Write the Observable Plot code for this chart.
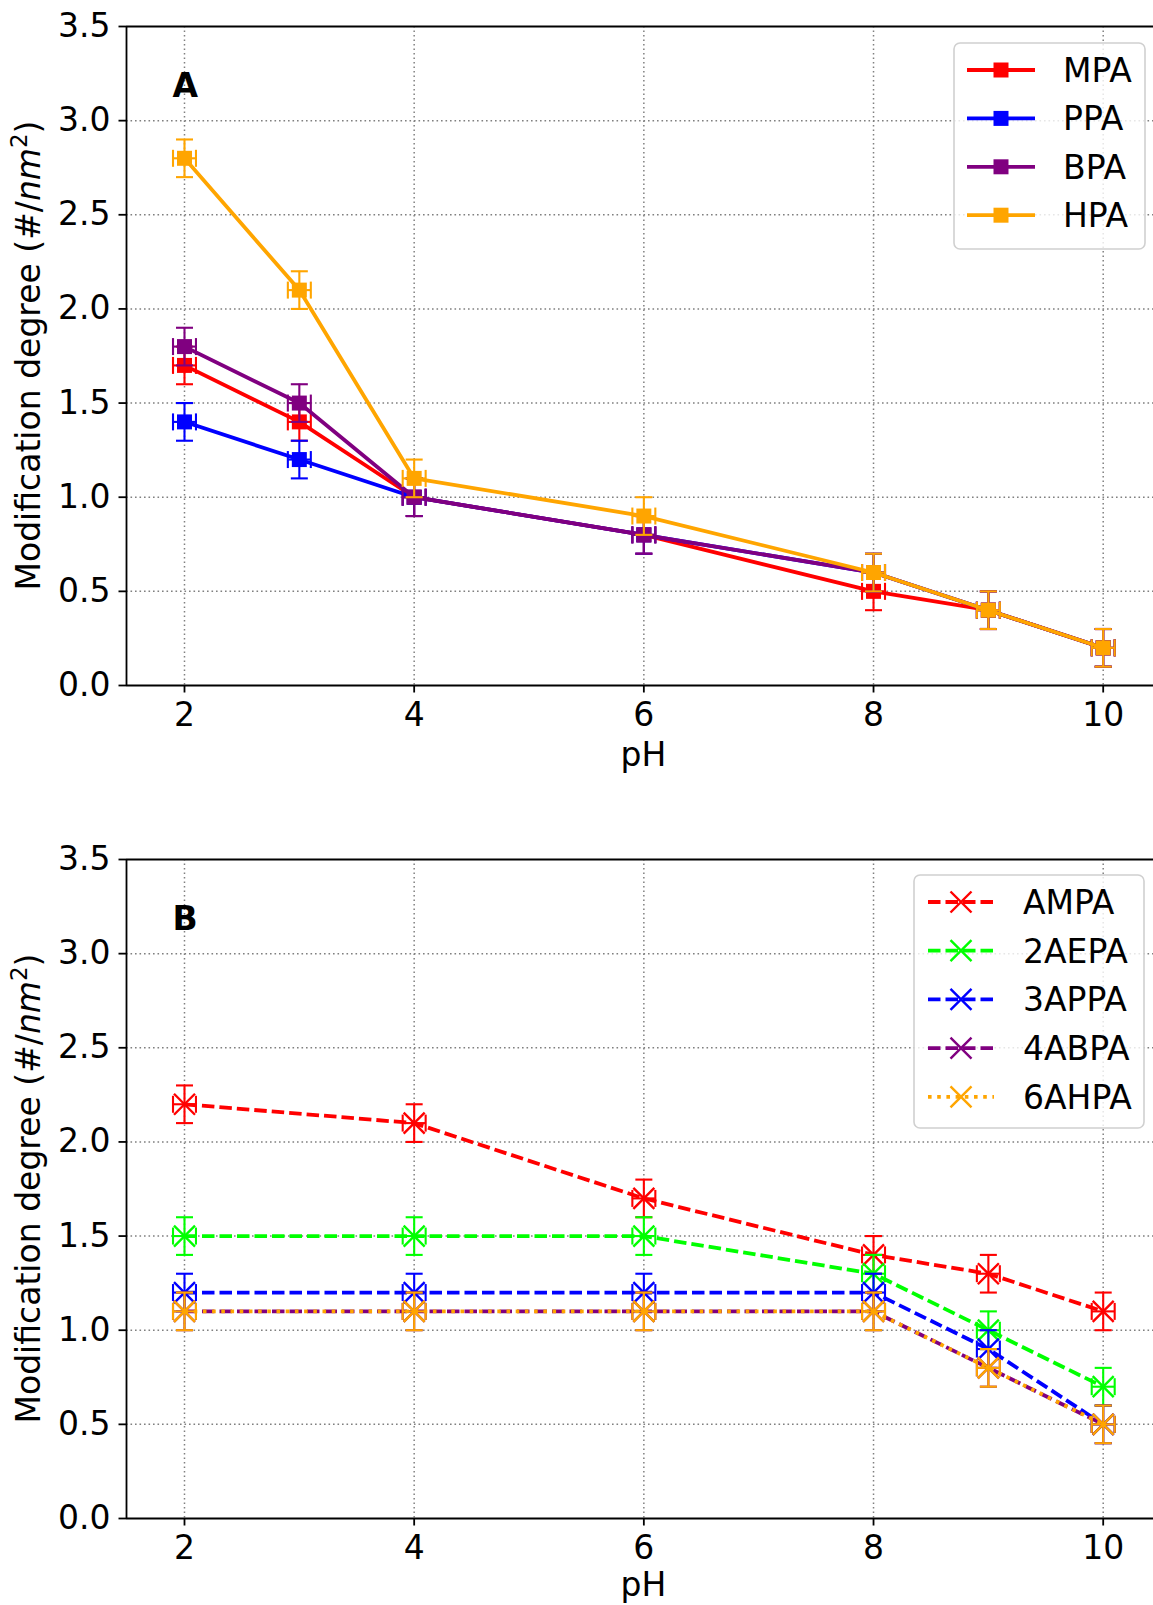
<!DOCTYPE html>
<html>
<head>
<meta charset="utf-8">
<script src="https://cdn.jsdelivr.net/npm/d3@7"></script>
<script src="https://cdn.jsdelivr.net/npm/@observablehq/plot@0.6"></script>
<style>
  body { margin: 0; background: #fff; }
  svg { display: block; }
</style>
</head>
<body>
<div id="chart"></div>
<script>
// ---- Panel A: phosphonic acids (pH vs modification degree) ----
const phA = [2, 3, 4, 6, 8, 9, 10];
const mpa = [1.7, 1.4, 1.0, 0.8, 0.5, 0.4, 0.2];
const ppa = [1.4, 1.2, 1.0, 0.8, 0.6, 0.4, 0.2];
const bpa = [1.8, 1.5, 1.0, 0.8, 0.6, 0.4, 0.2];
const hpa = [2.8, 2.1, 1.1, 0.9, 0.6, 0.4, 0.2];

// ---- Panel B: amino-phosphonic acids ----
const phB = [2, 4, 6, 8, 9, 10];
const ampa  = [2.2, 2.1, 1.7, 1.4, 1.3, 1.1];
const aepa2 = [1.5, 1.5, 1.5, 1.3, 1.0, 0.7];
const appa3 = [1.2, 1.2, 1.2, 1.2, 0.9, 0.5];
const abpa4 = [1.1, 1.1, 1.1, 1.1, 0.8, 0.5];
const ahpa6 = [1.1, 1.1, 1.1, 1.1, 0.8, 0.5];

// Uncertainties (same for every point)
const yErr = 0.1;
const xErr = 0.1;

// Axis ticks
const phTicks = [2, 4, 6, 8, 10];
const degreeTicks = [0, 0.5, 1.0, 1.5, 2.0, 2.5, 3.0, 3.5];
const gridDegree = [0.5, 1.0, 1.5, 2.0, 2.5, 3.0];

// Axis extent: the pH axis runs 1.495–10.505, the right part falls off the page
const phAxis = [1.495, 10.505];
const phVisible = [1.495, 10.438];
const degreeDomain = [0, 3.5];

const DASHED = "12.5,5";
const DOTTED = "3.6,5.6";

const seriesA = [
  {name: "MPA", values: mpa, color: "#ff0000", dash: null},
  {name: "PPA", values: ppa, color: "#0000ff", dash: null},
  {name: "BPA", values: bpa, color: "#800080", dash: null},
  {name: "HPA", values: hpa, color: "#ffa500", dash: null}
];
const seriesB = [
  {name: "AMPA",  values: ampa,  color: "#ff0000", dash: DASHED},
  {name: "2AEPA", values: aepa2, color: "#00ff00", dash: DASHED},
  {name: "3APPA", values: appa3, color: "#0000ff", dash: DASHED},
  {name: "4ABPA", values: abpa4, color: "#800080", dash: DASHED},
  {name: "6AHPA", values: ahpa6, color: "#ffa500", dash: DOTTED}
];

// Custom symbols; r is recovered from the area Plot passes in
const rad = size => Math.sqrt(size / Math.PI);
const capH = {draw(ctx, size) { const r = rad(size); ctx.moveTo(-r, 0); ctx.lineTo(r, 0); }};
const capV = {draw(ctx, size) { const r = rad(size); ctx.moveTo(0, -r); ctx.lineTo(0, r); }};
const squareSym = {draw(ctx, size) { const r = rad(size); ctx.rect(-r, -r, 2 * r, 2 * r); }};
const crossSym = {draw(ctx, size) {
  const r = rad(size);
  ctx.moveTo(-r, -r); ctx.lineTo(r, r);
  ctx.moveTo(r, -r); ctx.lineTo(-r, r);
}};

const FONT = "DejaVu Sans";
const LINE_W = 3.8;
const BAR_W = 2.1;
const gridStyle = {stroke: "#808080", strokeOpacity: 1, strokeWidth: 1.5, strokeDasharray: "1.6,2.9"};

function drawPanel(cfg) {
  const {xs, series, height, marginTop, marginBottom, filled, symbol, markerR, tag, labelOffset, legend} = cfg;
  const marks = [
    Plot.gridX(phTicks, gridStyle),
    Plot.gridY(gridDegree, gridStyle)
  ];
  for (const s of series) {
    const data = xs.map((x, i) => ({x, y: s.values[i]}));
    const bar = {stroke: s.color, strokeWidth: BAR_W};
    marks.push(
      Plot.ruleX(data, {x: "x", y1: d => d.y - yErr, y2: d => d.y + yErr, ...bar}),
      Plot.ruleY(data, {y: "y", x1: d => d.x - xErr, x2: d => d.x + xErr, ...bar}),
      Plot.dot(data, {x: "x", y: d => d.y + yErr, symbol: capH, r: 8.5, fill: "none", ...bar}),
      Plot.dot(data, {x: "x", y: d => d.y - yErr, symbol: capH, r: 8.5, fill: "none", ...bar}),
      Plot.dot(data, {x: d => d.x - xErr, y: "y", symbol: capV, r: 8.5, fill: "none", ...bar}),
      Plot.dot(data, {x: d => d.x + xErr, y: "y", symbol: capV, r: 8.5, fill: "none", ...bar}),
      Plot.line(data, {
        x: "x", y: "y", stroke: s.color, strokeWidth: LINE_W,
        strokeDasharray: s.dash || undefined,
        strokeLinecap: s.dash ? "butt" : "square", strokeLinejoin: "round"
      }),
      Plot.dot(data, filled
        ? {x: "x", y: "y", symbol, r: markerR, fill: s.color, stroke: "none"}
        : {x: "x", y: "y", symbol, r: markerR, fill: "none", stroke: s.color, strokeWidth: 2.4})
    );
  }
  marks.push(
    Plot.ruleY(degreeDomain, {stroke: "black", strokeWidth: 1.8}),
    Plot.ruleX([phVisible[0]], {stroke: "black", strokeWidth: 1.8}),
    Plot.axisX(phTicks, {tickSize: 7.5, tickPadding: 9.5, strokeWidth: 1.8, label: null, tickFormat: d => String(d)}),
    Plot.axisY(degreeTicks, {tickSize: 7.5, tickPadding: 8.5, strokeWidth: 1.8, label: null, tickFormat: d3.format(".1f")}),
    Plot.text([tag], {
      frameAnchor: "top-left", lineAnchor: "middle", dx: 46, dy: 60,
      textAnchor: "start", fontWeight: "bold", fontSize: 33, fill: "black"
    })
  );

  const svg = Plot.plot({
    width: 1153,
    height,
    marginLeft: 126,
    marginRight: 0,
    marginTop,
    marginBottom,
    x: {domain: phVisible},
    y: {domain: degreeDomain},
    style: {fontFamily: FONT, fontSize: "33px", color: "black", background: "white"},
    marks
  });

  const sel = d3.select(svg);
  const xs_ = svg.scale("x"), ys_ = svg.scale("y");
  const yTop = ys_.apply(degreeDomain[1]), yBot = ys_.apply(degreeDomain[0]);

  // y-axis title with italic unit and superscript
  const yl = sel.append("text")
    .attr("transform", `translate(40,${(yTop + yBot) / 2}) rotate(-90)`)
    .attr("text-anchor", "middle")
    .attr("font-family", FONT).attr("font-size", 33).attr("fill", "black");
  yl.append("tspan").text("Modification degree (#/");
  yl.append("tspan").attr("font-style", "italic").text("nm");
  yl.append("tspan").attr("font-size", 23).attr("dy", -13).text("2");
  yl.append("tspan").attr("dy", 13).text(")");

  // x-axis title, centred on the full pH axis
  sel.append("text")
    .attr("x", xs_.apply((phAxis[0] + phAxis[1]) / 2))
    .attr("y", yBot + labelOffset)
    .attr("text-anchor", "middle")
    .attr("font-family", FONT).attr("font-size", 33).attr("fill", "black")
    .text("pH");

  // legend box
  const lg = sel.append("g").attr("text-anchor", "start");
  lg.append("rect")
    .attr("x", legend.x).attr("y", legend.y)
    .attr("width", legend.w).attr("height", legend.h)
    .attr("rx", 6)
    .attr("fill", "white").attr("fill-opacity", 0.8)
    .attr("stroke", "#d0d0d0").attr("stroke-width", 1.6);
  series.forEach((s, i) => {
    const cy = legend.row0 + i * legend.rowStep;
    lg.append("line")
      .attr("x1", legend.h1).attr("x2", legend.h2)
      .attr("y1", cy).attr("y2", cy)
      .attr("stroke", s.color).attr("stroke-width", LINE_W)
      .attr("stroke-dasharray", s.dash)
      .attr("stroke-linecap", "butt");
    const p = d3.path();
    symbol.draw(p, Math.PI * markerR * markerR);
    const mk = lg.append("path")
      .attr("d", p.toString())
      .attr("transform", `translate(${(legend.h1 + legend.h2) / 2},${cy})`);
    if (filled) mk.attr("fill", s.color);
    else mk.attr("fill", "none").attr("stroke", s.color).attr("stroke-width", 2.4);
    lg.append("text")
      .attr("x", legend.tx).attr("y", cy + 12)
      .attr("text-anchor", "start")
      .attr("font-family", FONT).attr("font-size", 33).attr("fill", "black")
      .text(s.name);
  });

  return svg;
}

const chart = document.getElementById("chart");

chart.append(drawPanel({
  xs: phA, series: seriesA,
  height: 812, marginTop: 26, marginBottom: 127,
  filled: true, symbol: squareSym, markerR: 7.5,
  tag: "A", labelOffset: 81,
  legend: {x: 954, y: 43, w: 191, h: 206, row0: 70, rowStep: 48.4, h1: 967, h2: 1035, tx: 1063}
}));

chart.append(drawPanel({
  xs: phB, series: seriesB,
  height: 793, marginTop: 47, marginBottom: 87,
  filled: false, symbol: crossSym, markerR: 10.5,
  tag: "B", labelOffset: 78,
  legend: {x: 914, y: 63, w: 230, h: 253, row0: 90, rowStep: 48.7, h1: 928, h2: 994, tx: 1023}
}));
</script>
</body>
</html>
